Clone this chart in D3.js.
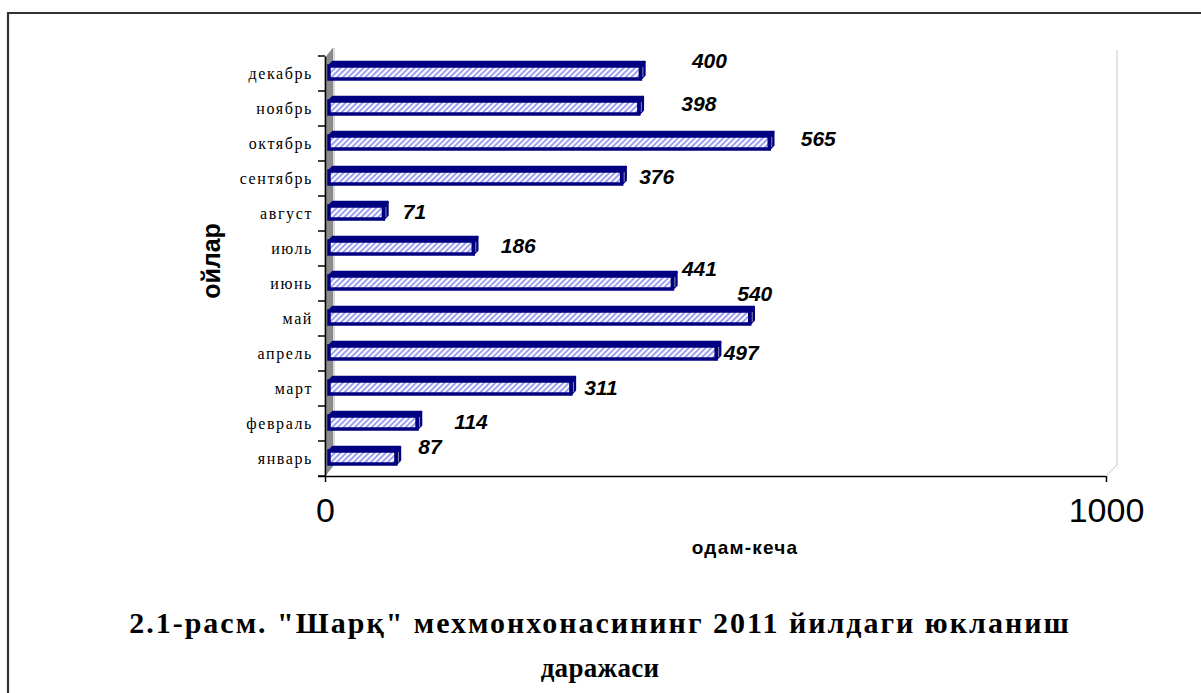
<!DOCTYPE html>
<html>
<head>
<meta charset="utf-8">
<script src="https://cdn.jsdelivr.net/npm/d3@7/dist/d3.min.js"></script>
<style>
  html, body { margin: 0; padding: 0; background: #fff; }
  svg { display: block; }
</style>
</head>
<body>
<svg id="chart" width="1201" height="693"></svg>
<script>
// ---- data ----
const months = ["январь","февраль","март","апрель","май","июнь","июль","август","сентябрь","октябрь","ноябрь","декабрь"];
const values = [87, 114, 311, 497, 540, 441, 186, 71, 376, 565, 398, 400];
const xTicks = [0, 1000];
const titleLines = ["2.1-расм. \"Шарқ\" мехмонхонасининг 2011 йилдаги юкланиш", "даражаси"];
const xTitle = "одам-кеча";
const yTitle = "ойлар";
// label nudges (layout, in px relative to bar end / bar centre)
const labelDx = [30, 50, 26, 21, 1, 23, 41, 27, 31, 45, 56, 65];
const labelDy = [-11, -1, 0, 0, -24, -14, -2, -1, -1, -4, -4, -12];

(function () {
const svg = d3.select("#chart");

// frame
svg.append("path").attr("d", "M8,693 L8,13 L1201,13")
  .attr("fill", "none").attr("stroke", "#333").attr("stroke-width", 2.2);

const x = d3.scaleLinear().domain([0, 1000]).range([325, 1106]);
const y = d3.scaleBand().domain(months.slice().reverse()).range([56, 476]);

const depthWall = 8;
const plotTop = 56, plotBottom = 476;

// back wall right edge (light grey)
svg.append("line").attr("x1", x(1000) + 11).attr("x2", x(1000) + 11)
  .attr("y1", plotTop - 6).attr("y2", plotBottom - 11)
  .attr("stroke", "#d9d9d9").attr("stroke-width", 1.5);
svg.append("line").attr("x1", x(1000) + 11).attr("y1", plotBottom - 11)
  .attr("x2", x(1000)).attr("y2", plotBottom)
  .attr("stroke", "#d0d0d0").attr("stroke-width", 1.5).attr("stroke-dasharray", "2,1");

// side wall (grey)
svg.append("path")
  .attr("d", `M${x(0)},${plotTop + 2} L${x(0) + depthWall},${plotTop - 8} L${x(0) + depthWall},${plotBottom - 10} L${x(0)},${plotBottom} Z`)
  .attr("fill", "#8c8c8c").attr("stroke", "#777").attr("stroke-width", 0.5);
svg.append("line").attr("x1", x(0) + depthWall + 1.5).attr("x2", x(0) + depthWall + 1.5)
  .attr("y1", plotTop - 8).attr("y2", plotBottom - 10).attr("stroke", "#d9d9d9").attr("stroke-width", 1);

// hatch pattern
const defs = svg.append("defs");
const pat = defs.append("pattern").attr("id", "hatch").attr("patternUnits", "userSpaceOnUse")
  .attr("width", 4).attr("height", 4).attr("patternTransform", "rotate(45)");
pat.append("rect").attr("width", 4).attr("height", 4).attr("fill", "#ffffff");
pat.append("rect").attr("width", 2).attr("height", 4).attr("fill", "#a0a0f0");

// bars
const bh = 13, bd = 4;
const barG = svg.append("g");
months.forEach((m, i) => {
  const v = values[i];
  const cy = y(m) + y.bandwidth() / 2 - 1;
  const x0 = x(0) + 4, xe = x(v) + 3;
  const yt = cy - bh / 2, yb = cy + bh / 2;
  barG.append("path")
    .attr("d", `M${x0},${yt} L${x0 + bd},${yt - bd} L${xe + bd},${yt - bd} L${xe},${yt} Z`)
    .attr("fill", "#000080").attr("stroke", "#000080").attr("stroke-width", 2.5).attr("stroke-linejoin", "round");
  barG.append("path")
    .attr("d", `M${xe},${yt} L${xe + bd},${yt - bd} L${xe + bd},${yb - bd} L${xe},${yb} Z`)
    .attr("fill", "#000080").attr("stroke", "#000080").attr("stroke-width", 2.5).attr("stroke-linejoin", "round");
  barG.append("rect").attr("x", x0).attr("y", yt).attr("width", xe - x0).attr("height", bh)
    .attr("fill", "url(#hatch)").attr("stroke", "#000080").attr("stroke-width", 3.5);
  barG.append("line").attr("x1", xe + 2.5).attr("x2", xe + 2.5).attr("y1", yt + 1).attr("y2", yb - 2)
    .attr("stroke", "#8a8aa8").attr("stroke-width", 1);
  svg.append("text")
    .attr("x", xe + bd + labelDx[i]).attr("y", cy + labelDy[i])
    .attr("text-anchor", "middle").attr("dominant-baseline", "central")
    .attr("font-family", "Liberation Sans, Arial, sans-serif").attr("font-size", 21)
    .attr("font-weight", "bold").attr("font-style", "italic").attr("fill", "#000")
    .text(v);
});

// y axis
const yAxis = svg.append("g").attr("transform", `translate(${x(0)},0)`)
  .call(d3.axisLeft(y).tickSize(0).tickPadding(12));
yAxis.select(".domain").attr("stroke", "#000").attr("stroke-width", 1.5);
yAxis.selectAll("text")
  .attr("font-family", "Liberation Serif, Times New Roman, serif").attr("font-size", 16)
  .attr("letter-spacing", "1.6px").attr("fill", "#000");
const bounds = d3.range(0, months.length + 1).map(k => plotTop + k * y.step());
svg.append("g").selectAll("line").data(bounds).join("line")
  .attr("x1", x(0) - 7).attr("x2", x(0)).attr("y1", d => d).attr("y2", d => d)
  .attr("stroke", "#000").attr("stroke-width", 1.5);

// x axis
const xAxis = svg.append("g").attr("transform", `translate(0,${plotBottom})`)
  .call(d3.axisBottom(x).tickValues(xTicks).tickSize(6).tickPadding(16).tickFormat(d3.format("d")));
xAxis.select(".domain").attr("d", `M${x(0) - 7},0.5H${x(1000)}`).attr("stroke", "#000").attr("stroke-width", 1.5);
xAxis.selectAll(".tick line").attr("stroke", "#000").attr("stroke-width", 1.5);
xAxis.selectAll("text")
  .attr("font-family", "Liberation Sans, Arial, sans-serif").attr("font-size", 34).attr("fill", "#000");

// axis titles
svg.append("text").attr("x", 745).attr("y", 554).attr("text-anchor", "middle")
  .attr("font-family", "Liberation Sans, Arial, sans-serif").attr("font-size", 19).attr("font-weight", "bold")
  .attr("letter-spacing", "1.2px")
  .text(xTitle);
svg.append("text").attr("transform", "translate(220,261) rotate(-90)").attr("text-anchor", "middle")
  .attr("font-family", "Liberation Sans, Arial, sans-serif").attr("font-size", 25).attr("font-weight", "bold")
  .text(yTitle);

// title
const titleSpacing = ["2px", "0.3px"];
const titleSizes = [30, 27];
const titleY = [633, 677];
titleLines.forEach((t, i) => {
  svg.append("text").attr("x", 600).attr("y", titleY[i]).attr("text-anchor", "middle")
    .attr("font-family", "Liberation Serif, Times New Roman, serif").attr("font-size", titleSizes[i]).attr("font-weight", "bold")
    .attr("letter-spacing", titleSpacing[i])
    .text(t);
});
})();
</script>
</body>
</html>
